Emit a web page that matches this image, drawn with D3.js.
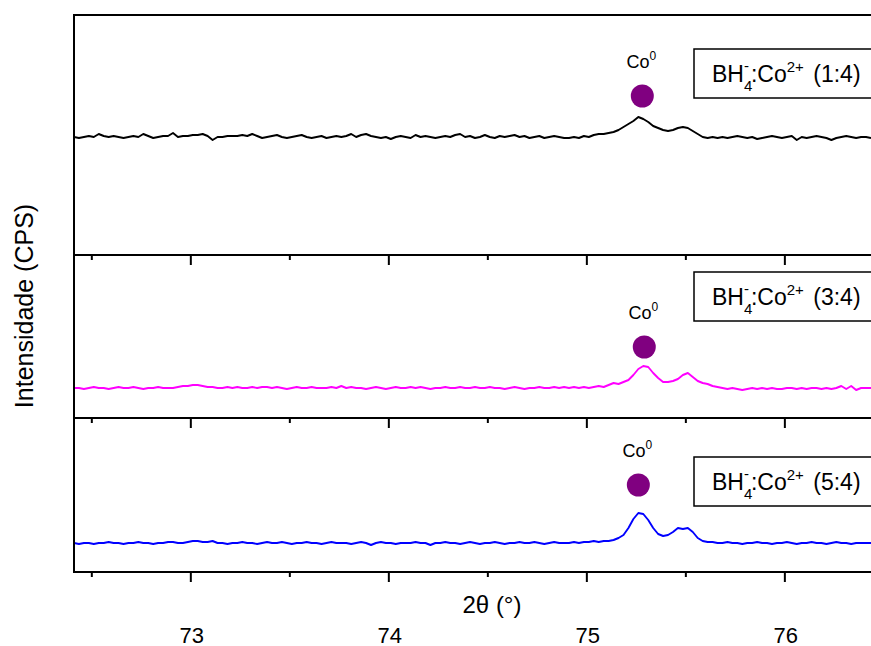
<!DOCTYPE html>
<html>
<head>
<meta charset="utf-8">
<script src="https://cdn.jsdelivr.net/npm/d3@7/dist/d3.min.js"></script>
<style>
  html, body { margin: 0; padding: 0; background: #fff; }
  svg { display: block; font-family: Arial, "Liberation Sans", sans-serif; }
</style>
</head>
<body>
<svg id="chart" width="871" height="646"></svg>
<script>
// XRD scans, 2θ sampling grid (degrees)
const twoThetaStart = 72.41;
const twoThetaStep = 0.025;

// Sample ratios BH4-:Co2+
const ratios = ["1:4", "3:4", "5:4"];
const traceColors = ["#000000", "#ff00ff", "#0000ff"];

// Intensity (CPS, offset per panel)
const intensity14 = [
  118,117,118,119,118,121,119,118,119,118,
  117,118,119,118,121,119,117,118,119,119,
  122,118,119,119,120,120,121,119,115,118,
  118,119,119,119,120,119,121,119,117,118,
  119,120,118,117,118,119,120,118,117,118,
  119,117,118,119,118,119,121,118,120,121,
  119,118,117,118,116,118,119,118,117,120,
  118,119,118,117,118,119,118,120,121,118,
  119,117,118,120,118,117,119,118,119,120,
  118,119,117,118,119,117,118,119,118,117,
  117,118,117,119,118,120,121,121,122,123,
  125,128,131,134,138,136,133,129,127,125,
  124,125,127,128,127,124,121,118,117,118,
  117,118,117,118,119,118,117,118,116,117,
  118,119,118,117,118,119,115,118,117,118,
  119,118,117,115,117,118,119,118,117,118,
  118,117
];
const intensity34 = [
  30,30,29,30,31,30,30,29,30,31,
  30,30,31,30,29,30,30,31,30,30,
  30,31,32,32,33,33,32,31,31,30,
  30,31,30,31,30,30,31,30,31,31,
  30,31,30,29,30,31,30,30,31,30,
  30,30,31,30,32,30,31,30,30,29,
  30,31,30,29,30,31,30,30,31,30,
  31,30,29,30,30,31,30,30,31,30,
  30,31,30,30,31,30,30,29,30,31,
  30,29,30,30,31,30,30,31,30,31,
  30,31,30,31,30,31,32,31,33,35,
  34,36,38,43,49,52,51,45,40,36,
  36,37,39,43,45,41,37,35,34,32,
  31,30,29,30,29,28,29,30,29,30,
  29,30,29,29,30,30,29,30,29,30,
  30,29,30,29,30,32,29,32,28,30,
  30,30
];
const intensity54 = [
  29,28,29,29,28,29,29,30,29,29,
  28,29,29,30,29,29,28,29,29,30,
  30,29,29,30,31,31,30,30,31,29,
  29,28,29,29,30,29,29,28,29,30,
  29,29,30,29,28,29,29,30,29,29,
  28,29,30,29,29,29,28,29,30,29,
  27,29,30,29,29,28,29,29,29,30,
  29,29,27,29,29,30,29,29,28,29,
  30,29,28,29,29,30,29,28,29,29,
  30,29,29,30,29,28,29,30,29,29,
  29,30,29,30,30,31,30,31,31,32,
  34,37,44,53,59,58,52,44,38,36,
  37,40,44,43,44,40,34,31,30,30,
  29,29,30,29,29,28,29,29,30,29,
  29,28,29,29,30,29,28,29,29,30,
  29,29,28,29,30,29,29,28,29,29,
  29,29
];
const seriesIntensity = [intensity14, intensity34, intensity54];

// Upper end of each panel's intensity axis
const panelIntensityMax = [240, 163, 154];

// Co0 reflection marker: 2θ and marker height per panel
const coPeakTwoTheta = [75.28, 75.29, 75.26];
const coMarkerIntensity = [159, 71, 87];

// Axis ticks
const majorTicks = [73, 74, 75, 76];
const minorTicks = [72.5, 73.5, 74.5, 75.5];

const svg = d3.select("#chart");
const left = 74, right = 871;
const panelEdges = [15, 255, 418, 572];
const legendTop = [49, 272, 457];

const x = d3.scaleLinear()
  .domain([twoThetaStart, twoThetaStart + twoThetaStep * 161])
  .range([left, right]);

svg.append("defs").append("clipPath").attr("id", "plotClip")
  .append("rect").attr("x", left).attr("y", panelEdges[0])
  .attr("width", right - left).attr("height", panelEdges[3] - panelEdges[0]);

ratios.forEach((ratio, k) => {
  const top = panelEdges[k], bottom = panelEdges[k + 1];
  const y = d3.scaleLinear().domain([0, panelIntensityMax[k]]).range([bottom, top]);
  const values = seriesIntensity[k];
  const g = svg.append("g");

  // trace
  const line = d3.line()
    .x((d, i) => x(twoThetaStart + i * twoThetaStep))
    .y(d => y(d));
  g.append("path")
    .datum(values)
    .attr("clip-path", "url(#plotClip)")
    .attr("fill", "none")
    .attr("stroke", traceColors[k])
    .attr("stroke-width", 1.9)
    .attr("stroke-linejoin", "round")
    .attr("d", line);

  // Co0 marker
  const cx = x(coPeakTwoTheta[k]);
  const cy = y(coMarkerIntensity[k]);
  g.append("circle").attr("cx", cx).attr("cy", cy).attr("r", 11.5).attr("fill", "#800080");
  const co = g.append("text")
    .attr("x", cx - 1).attr("y", cy - 28)
    .attr("text-anchor", "middle")
    .attr("font-size", 18).attr("fill", "#000");
  co.append("tspan").text("Co");
  co.append("tspan").attr("font-size", 12).attr("dy", -8).text("0");

  // sample label box
  const ly = legendTop[k];
  g.append("rect")
    .attr("x", 694).attr("y", ly)
    .attr("width", 190).attr("height", 49)
    .attr("fill", "#fff").attr("stroke", "#000").attr("stroke-width", 1.5);
  const t = g.append("text")
    .attr("x", 712).attr("y", ly + 33)
    .attr("font-size", 23).attr("fill", "#000");
  t.append("tspan").text("BH");
  t.append("tspan").attr("font-size", 15).attr("dy", 9).text("4");
  t.append("tspan").attr("font-size", 15).attr("dx", -8.3).attr("dy", -20).text("-");
  t.append("tspan").attr("dx", 2).attr("dy", 11).text(":Co");
  t.append("tspan").attr("font-size", 15).attr("dy", -10).text("2+");
  t.append("tspan").attr("dx", 3).attr("dy", 10).text(" (" + ratio + ")");

  // bottom axis of this panel (ticks outward)
  const axis = g.append("g").attr("transform", `translate(0,${bottom})`);
  axis.append("line").attr("x1", left).attr("x2", right).attr("y1", 0).attr("y2", 0)
    .attr("stroke", "#000").attr("stroke-width", 2);
  axis.selectAll("line.major").data(majorTicks).enter().append("line")
    .attr("class", "major")
    .attr("x1", d => x(d)).attr("x2", d => x(d)).attr("y1", 0).attr("y2", 10)
    .attr("stroke", "#000").attr("stroke-width", 2);
  axis.selectAll("line.minor").data(minorTicks).enter().append("line")
    .attr("class", "minor")
    .attr("x1", d => x(d)).attr("x2", d => x(d)).attr("y1", 0).attr("y2", 5)
    .attr("stroke", "#000").attr("stroke-width", 2);
});

// top frame line and left axis
svg.append("line").attr("x1", left).attr("x2", right)
  .attr("y1", panelEdges[0]).attr("y2", panelEdges[0])
  .attr("stroke", "#000").attr("stroke-width", 2);
svg.append("line").attr("x1", left).attr("x2", left)
  .attr("y1", panelEdges[0] - 1).attr("y2", panelEdges[3] + 1)
  .attr("stroke", "#000").attr("stroke-width", 2);

// tick labels
svg.selectAll("text.tick").data(majorTicks).enter().append("text")
  .attr("class", "tick")
  .attr("x", d => x(d) + 1).attr("y", 643)
  .attr("text-anchor", "middle").attr("font-size", 22)
  .text(d => d);

// axis titles
svg.append("text")
  .attr("x", 492).attr("y", 613)
  .attr("text-anchor", "middle").attr("font-size", 24)
  .text("2θ (°)");
svg.append("text")
  .attr("transform", "translate(33,306) rotate(-90)")
  .attr("text-anchor", "middle").attr("font-size", 25)
  .text("Intensidade (CPS)");
</script>
</body>
</html>
